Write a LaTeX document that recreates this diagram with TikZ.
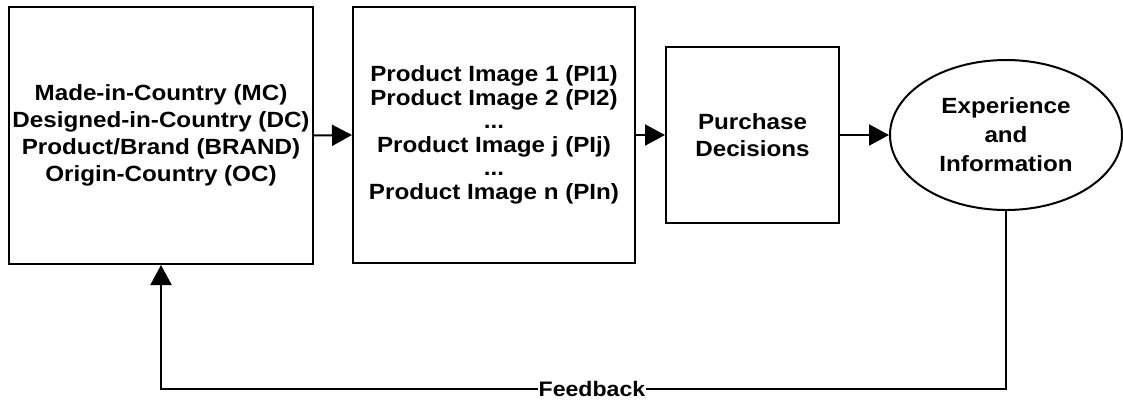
\documentclass[tikz,border=0pt]{standalone}
\usepackage{fontspec}
\setmainfont{Liberation Sans}[FakeStretch=1.1]
\usetikzlibrary{arrows.meta,shapes.geometric}
\tikzset{
  boxnode/.style={draw, line width=2pt, inner sep=0pt, align=center,
    font=\fontsize{22}{27}\selectfont\bfseries},
  tightnode/.style={boxnode, font=\fontsize{22}{23.5}\selectfont\bfseries},
  ellnode/.style={boxnode, ellipse, font=\fontsize{22}{29}\selectfont\bfseries},
  arr/.style={line width=2pt, -{Triangle[length=20pt,width=21pt]}},
  lbl/.style={fill=white, inner sep=1pt, font=\fontsize{21}{27}\selectfont\bfseries}
}
\begin{document}
\begin{tikzpicture}[x=1pt,y=-1pt]
\useasboundingbox (0,0) rectangle (1123,400);
\node[boxnode, minimum width=304pt, minimum height=257pt] (b1) at (161,135.5)
  {Made-in-Country (MC)\\Designed-in-Country (DC)\\Product/Brand (BRAND)\\Origin-Country (OC)};
\node[tightnode, minimum width=282pt, minimum height=256pt] (b2) at (494,135)
  {Product Image 1 (PI1)\\Product Image 2 (PI2)\\...\\Product Image j (PIj)\\...\\Product Image n (PIn)};
\node[boxnode, minimum width=173pt, minimum height=176pt] (b3) at (752.5,135)
  {Purchase\\Decisions};
\node[ellnode, minimum width=232pt, minimum height=150pt] (e) at (1006,135)
  {Experience\\and\\Information};
\coordinate (fbR) at (1006,389);
\coordinate (fbL) at (161,389);
\draw[arr] (b1.east) -- (b2.west);
\draw[arr] (b2.east) -- (b3.west);
\draw[arr] (b3.east) -- (e.west);
\draw[arr] (e.south) -- (fbR) -- node[lbl, pos=0.49] (fb) {Feedback} (fbL) -- (b1.south);
\end{tikzpicture}
\end{document}
